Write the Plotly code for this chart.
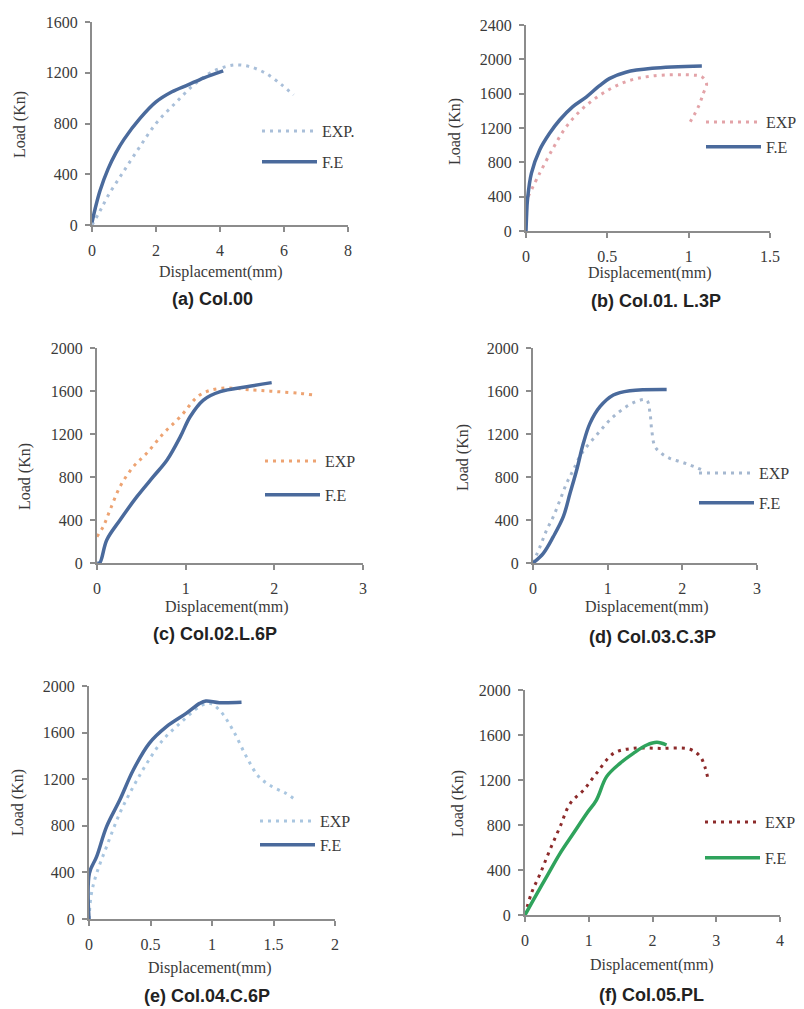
import plotly.graph_objects as go

# page body has an 8px default margin; the figure is sized so it ends at the window edge
OFF = 8
W, H = 804 - OFF, 1009 - OFF

# ---------------- data ----------------
a_exp_x = [0, 0.25, 0.5, 0.93, 1.45, 2.0, 2.6, 3.16, 3.7, 4.2, 4.5, 4.9, 5.4, 5.9, 6.3]
a_exp_y = [0, 110, 230, 400, 600, 800, 960, 1100, 1200, 1250, 1262, 1250, 1200, 1110, 1025]
a_fe_x = [0, 0.1, 0.25, 0.5, 0.75, 1.0, 1.5, 2.0, 2.5, 3.0, 3.5, 4.1]
a_fe_y = [20, 130, 270, 440, 570, 675, 840, 970, 1050, 1105, 1160, 1215]

b_exp_x = [0.013, 0.084, 0.166, 0.248, 0.35, 0.472, 0.614, 0.776, 1.02, 1.081, 1.11, 1.09, 1.06, 1.01]
b_exp_y = [400, 672, 963, 1216, 1429, 1604, 1740, 1806, 1817, 1798, 1720, 1604, 1449, 1274]
b_fe_x = [0, 0.004, 0.009, 0.033, 0.084, 0.145, 0.207, 0.288, 0.37, 0.45, 0.512, 0.614, 0.776, 1.081]
b_fe_y = [0, 200, 361, 672, 944, 1138, 1293, 1449, 1560, 1690, 1775, 1850, 1895, 1922]

c_exp_x = [0, 0.07, 0.147, 0.26, 0.41, 0.56, 0.75, 0.94, 1.16, 1.39, 1.76, 2.03, 2.29, 2.44]
c_exp_y = [245, 338, 493, 710, 896, 1020, 1206, 1361, 1563, 1625, 1609, 1594, 1578, 1563]
c_fe_x = [0, 0.03, 0.11, 0.26, 0.45, 0.635, 0.79, 0.94, 1.05, 1.2, 1.39, 1.69, 1.97]
c_fe_y = [0, 0, 214, 400, 617, 803, 958, 1175, 1361, 1516, 1594, 1640, 1678]

d_exp_x = [0, 0.094, 0.183, 0.272, 0.362, 0.45, 0.54, 0.652, 0.853, 1.076, 1.344, 1.52, 1.567, 1.59,
           1.634, 1.72, 1.83, 1.97, 2.1, 2.25]
d_exp_y = [0, 152, 307, 431, 586, 741, 865, 1020, 1191, 1361, 1491, 1516, 1392, 1237,
           1082, 1020, 974, 943, 912, 870]
d_fe_x = [0, 0.138, 0.272, 0.406, 0.496, 0.585, 0.674, 0.763, 0.897, 1.076, 1.3, 1.79]
d_fe_y = [0, 90, 245, 431, 648, 865, 1113, 1299, 1454, 1563, 1603, 1615]

e_exp_x = [0, 0.02, 0.062, 0.143, 0.25, 0.36, 0.47, 0.6, 0.74, 0.9, 0.98, 1.06, 1.17, 1.28, 1.38, 1.49, 1.6, 1.68]
e_exp_y = [0, 220, 392, 621, 907, 1136, 1336, 1536, 1680, 1823, 1851, 1794, 1622, 1393, 1222, 1136, 1079, 1021]
e_fe_x = [0, 0.003, 0.062, 0.143, 0.25, 0.36, 0.49, 0.63, 0.79, 0.9, 0.95, 1.06, 1.24]
e_fe_y = [0, 392, 535, 793, 1021, 1279, 1508, 1651, 1765, 1851, 1871, 1857, 1860]

f_exp_x = [0, 0.1, 0.24, 0.39, 0.55, 0.71, 0.92, 1.12, 1.39, 1.7, 2.12, 2.59, 2.75, 2.82, 2.88]
f_exp_y = [0, 193, 370, 578, 785, 993, 1111, 1259, 1437, 1481, 1481, 1473, 1407, 1319, 1185]
f_fe_x = [0, 0.13, 0.34, 0.55, 0.76, 0.97, 1.12, 1.28, 1.49, 1.7, 1.91, 2.07, 2.22]
f_fe_y = [0, 133, 341, 548, 726, 904, 1022, 1230, 1348, 1437, 1511, 1535, 1511]

titles = ["(a) Col.00", "(b) Col.01. L.3P", "(c) Col.02.L.6P",
          "(d) Col.03.C.3P", "(e) Col.04.C.6P", "(f) Col.05.PL"]
exp_names = ["EXP.", "EXP", "EXP", "EXP", "EXP", "EXP"]
fe_name = "F.E"
x_ranges = [[0, 8], [0, 1.5], [0, 3], [0, 3], [0, 2], [0, 4]]
x_dticks = [2, 0.5, 1, 1, 0.5, 1]
y_ranges = [[0, 1600], [0, 2400], [0, 2000], [0, 2000], [0, 2000], [0, 2000]]
y_dtick = 400

exp_colors = ["#a9bfd9", "#e3a3a8", "#eda372", "#a5b8d0", "#a9c6e0", "#8c2a2a"]
fe_colors = ["#4a6a9c", "#4a6a9c", "#4a6a9c", "#4a6a9c", "#4a6a9c", "#2fa35c"]

series = [
    (a_exp_x, a_exp_y, a_fe_x, a_fe_y),
    (b_exp_x, b_exp_y, b_fe_x, b_fe_y),
    (c_exp_x, c_exp_y, c_fe_x, c_fe_y),
    (d_exp_x, d_exp_y, d_fe_x, d_fe_y),
    (e_exp_x, e_exp_y, e_fe_x, e_fe_y),
    (f_exp_x, f_exp_y, f_fe_x, f_fe_y),
]

# ---------------- layout (pixel boxes of each plot area, window coordinates) ----------------
boxes = [  # (left, right, top, bottom) px
    (92, 348, 22, 225),
    (526, 770, 25, 231),
    (97, 363, 348, 563),
    (533, 757, 348, 563),
    (89, 335, 686, 919),
    (525, 780, 690, 915),
]
title_pos = [(212, 299), (656, 301), (215, 634), (652, 637), (207, 996), (651, 995)]
xtitle_pos = [(221, 272), (650, 273), (227, 607), (647, 607), (210, 968), (652, 965)]
ytitle_pos = [(20, 125), (455, 132), (25, 477), (463, 457), (18, 803), (458, 803)]
legend_pos = [(265, 132, 30), (709, 123, 24), (268, 462, 33), (702, 474, 29), (263, 822, 23), (708, 823, 35)]


def px(x):
    return (x - OFF) / W


def py(y):
    return 1 - (y - OFF) / H


SERIF = "Liberation Serif"
SANS = "Liberation Sans"
GRAY = "#8c8c8c"
TXT = "#3a3a3a"

fig = go.Figure()
annotations = []
layout = dict(
    width=W, height=H, template="none",
    margin=dict(l=0, r=0, t=0, b=0, pad=0, autoexpand=False),
    paper_bgcolor="white", plot_bgcolor="white",
    showlegend=True,
)

for i in range(6):
    n = "" if i == 0 else str(i + 1)
    xa, ya = "x" + n, "y" + n
    lg = "legend" + n
    ex, ey, fx, fy = series[i]
    fig.add_trace(go.Scatter(
        x=ex, y=ey, mode="lines", name=exp_names[i], xaxis=xa, yaxis=ya,
        line=dict(color=exp_colors[i], width=3, dash="3px,5px", shape="spline", smoothing=1.0),
        legend=lg, legendgroup="exp" + n, hoverinfo="skip"))
    fig.add_trace(go.Scatter(
        x=fx, y=fy, mode="lines", name=fe_name, xaxis=xa, yaxis=ya,
        line=dict(color=fe_colors[i], width=3.5, shape="spline", smoothing=1.0),
        legend=lg, legendgroup="fe" + n, hoverinfo="skip"))

    l, r, t, b = boxes[i]
    common = dict(showline=True, linecolor=GRAY, linewidth=2, ticks="outside", ticklen=5,
                  tickcolor=GRAY, tickwidth=1.5, showgrid=False, zeroline=False, automargin=False,
                  tickfont=dict(family=SERIF, size=16, color=TXT), tick0=0)
    layout["xaxis" + n] = dict(domain=[px(l), px(r)], anchor=ya, range=x_ranges[i],
                               dtick=x_dticks[i], ticklabelstandoff=5, **common)
    layout["yaxis" + n] = dict(domain=[py(b), py(t)], anchor=xa, range=y_ranges[i],
                               dtick=y_dtick, ticklabelstandoff=4, **common)
    sx, sy, gap = legend_pos[i]
    layout[lg] = dict(
        x=px(sx - 8), y=py(sy - 18), xanchor="left", yanchor="top",
        bgcolor="rgba(0,0,0,0)", borderwidth=0, itemwidth=55,
        font=dict(family=SERIF, size=16, color=TXT),
        traceorder="grouped", tracegroupgap=max(gap - 23, 0),
        itemclick=False, itemdoubleclick=False,
    )
    tx, ty = title_pos[i]
    annotations.append(dict(text=titles[i], x=px(tx), y=py(ty), xref="paper", yref="paper",
                            showarrow=False, xanchor="center", yanchor="middle",
                            font=dict(family=SANS, size=18, color="#222222", weight="bold")))
    ax_, ay_ = xtitle_pos[i]
    annotations.append(dict(text="Displacement(mm)", x=px(ax_), y=py(ay_), xref="paper", yref="paper",
                            showarrow=False, xanchor="center", yanchor="middle",
                            font=dict(family=SERIF, size=16, color=TXT)))
    yx, yy = ytitle_pos[i]
    annotations.append(dict(text="Load (Kn)", x=px(yx), y=py(yy), xref="paper", yref="paper",
                            showarrow=False, xanchor="center", yanchor="middle", textangle=-90,
                            font=dict(family=SERIF, size=16, color=TXT)))

layout["annotations"] = annotations
fig.update_layout(**layout)
fig.write_html("out.html")
